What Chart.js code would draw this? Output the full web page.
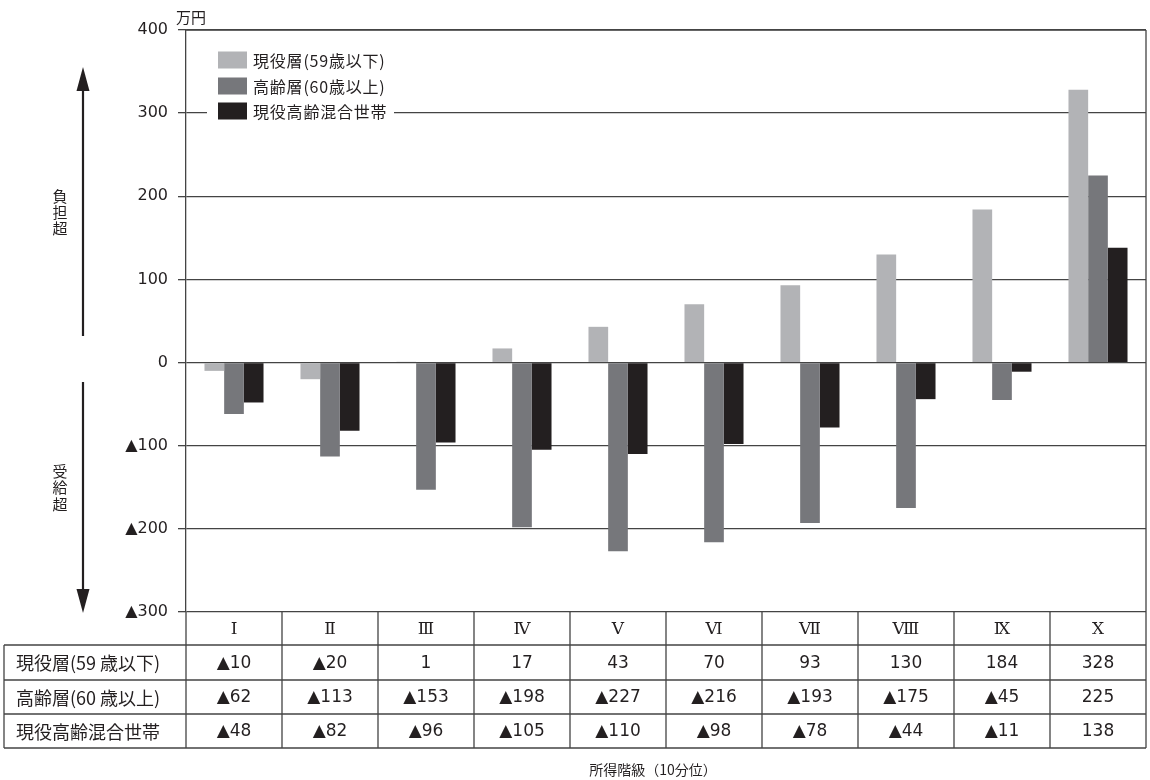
<!DOCTYPE html>
<html lang="ja">
<head>
<meta charset="utf-8">
<title>所得階級別 負担超・受給超</title>
<script src="https://cdn.jsdelivr.net/npm/chart.js@4.4.1/dist/chart.umd.min.js"></script>
<style>
  html, body { margin: 0; padding: 0; background: #fff; }
  #wrap { width: 1150px; height: 780px; position: relative; }
</style>
</head>
<body>
<div id="wrap"><canvas id="c" width="1150" height="780"></canvas></div>
<script>
// 所得階級（10分位）
const deciles = ['Ⅰ', 'Ⅱ', 'Ⅲ', 'Ⅳ', 'Ⅴ', 'Ⅵ', 'Ⅶ', 'Ⅷ', 'Ⅸ', 'Ⅹ'];
// 系列名（凡例）と表の行見出し
const seriesNames = ['現役層(59歳以下)', '高齢層(60歳以上)', '現役高齢混合世帯'];
const rowLabels = ['現役層(59 歳以下)', '高齢層(60 歳以上)', '現役高齢混合世帯'];
// 値（万円、マイナスは▲表示）
const activeValues = [-10, -20, 1, 17, 43, 70, 93, 130, 184, 328];
const elderlyValues = [-62, -113, -153, -198, -227, -216, -193, -175, -45, 225];
const mixedValues = [-48, -82, -96, -105, -110, -98, -78, -44, -11, 138];
// 縦軸目盛
const yTicks = [400, 300, 200, 100, 0, -100, -200, -300];

const colors = ['#b2b3b6', '#76777b', '#231f20'];
const ink = '#231f20';
const lineColor = '#444';

const fmt = v => (v < 0 ? '▲' + (-v) : String(v));

const decor = {
  id: 'decor',
  afterDraw(chart) {
    const ctx = chart.ctx;
    const area = chart.chartArea;
    const xs = chart.scales.x;
    const half = (xs.getPixelForValue(1) - xs.getPixelForValue(0)) / 2;
    ctx.save();

    // 上枠・右枠
    ctx.strokeStyle = lineColor;
    ctx.lineWidth = 1.3;
    ctx.beginPath();
    ctx.moveTo(area.left, area.top);
    ctx.lineTo(area.right, area.top);
    ctx.moveTo(area.right, area.top);
    ctx.lineTo(area.right, area.bottom);
    ctx.stroke();

    // 凡例
    const lx = 218, ly = [60, 86, 111];
    ctx.fillStyle = '#fff';
    ctx.fillRect(207, 45, 187, 78);
    ctx.font = '16px "Noto Sans CJK JP"';
    ctx.textBaseline = 'middle';
    ctx.textAlign = 'left';
    try { ctx.letterSpacing = '0.8px'; } catch (e) {}
    chart.data.datasets.forEach((ds, i) => {
      ctx.fillStyle = ds.backgroundColor;
      ctx.fillRect(lx, ly[i] - 8.5, 29, 17);
      ctx.fillStyle = ink;
      ctx.fillText(ds.label, lx + 35, ly[i] + 1);
    });
    try { ctx.letterSpacing = '0px'; } catch (e) {}

    // 単位
    ctx.font = '15px "Noto Sans CJK JP"';
    ctx.fillStyle = ink;
    ctx.textBaseline = 'middle';
    ctx.fillText('万円', 176, 17);

    // 表
    const rowY = [area.bottom, 645, 680, 714, 748];
    const tableLeft = 4;
    ctx.strokeStyle = lineColor;
    ctx.lineWidth = 1.3;
    ctx.beginPath();
    for (let r = 1; r < rowY.length; r++) {
      ctx.moveTo(tableLeft, rowY[r]);
      ctx.lineTo(area.right, rowY[r]);
    }
    ctx.moveTo(tableLeft, rowY[1]);
    ctx.lineTo(tableLeft, rowY[4]);
    for (let i = 0; i <= deciles.length; i++) {
      const x = i < deciles.length ? xs.getPixelForValue(i) - half : area.right;
      ctx.moveTo(x, rowY[0]);
      ctx.lineTo(x, rowY[4]);
    }
    ctx.stroke();

    // 見出し（ローマ数字）
    ctx.fillStyle = ink;
    ctx.textAlign = 'center';
    ctx.font = '17px "DejaVu Serif"';
    deciles.forEach((d, i) => {
      ctx.fillText(d, xs.getPixelForValue(i), (rowY[0] + rowY[1]) / 2 + 1);
    });

    // 行見出しと値
    const rows = [activeValues, elderlyValues, mixedValues];
    rows.forEach((vals, r) => {
      const cy = (rowY[r + 1] + rowY[r + 2]) / 2 + 1;
      ctx.textAlign = 'left';
      ctx.font = '18px "Noto Sans CJK JP"';
      ctx.fillText(rowLabels[r], 16, cy);
      ctx.textAlign = 'center';
      ctx.font = '17px "DejaVu Sans"';
      vals.forEach((v, i) => ctx.fillText(fmt(v), xs.getPixelForValue(i), cy));
    });

    // 横軸タイトル
    ctx.font = '14px "Noto Sans CJK JP"';
    ctx.fillText('所得階級（10分位）', 653, 770);

    // 左側の矢印
    const ax = 83;
    ctx.strokeStyle = ink;
    ctx.fillStyle = ink;
    ctx.lineWidth = 2.2;
    ctx.beginPath();
    ctx.moveTo(ax, 336); ctx.lineTo(ax, 85);
    ctx.moveTo(ax, 382); ctx.lineTo(ax, 595);
    ctx.stroke();
    ctx.beginPath();
    ctx.moveTo(ax, 67); ctx.lineTo(ax - 6.5, 91); ctx.lineTo(ax + 6.5, 91); ctx.closePath();
    ctx.fill();
    ctx.beginPath();
    ctx.moveTo(ax, 613); ctx.lineTo(ax - 6.5, 589); ctx.lineTo(ax + 6.5, 589); ctx.closePath();
    ctx.fill();

    // 縦書きラベル
    ctx.font = '15px "Noto Sans CJK JP"';
    ctx.textAlign = 'center';
    ['負', '担', '超'].forEach((ch, k) => ctx.fillText(ch, 60, 196 + k * 16));
    ['受', '給', '超'].forEach((ch, k) => ctx.fillText(ch, 60, 471 + k * 16.5));

    ctx.restore();
  }
};

new Chart(document.getElementById('c'), {
  type: 'bar',
  data: {
    labels: deciles,
    datasets: [
      { label: seriesNames[0], data: activeValues, backgroundColor: colors[0] },
      { label: seriesNames[1], data: elderlyValues, backgroundColor: colors[1] },
      { label: seriesNames[2], data: mixedValues, backgroundColor: colors[2] }
    ].map(d => Object.assign(d, { categoryPercentage: 0.615, barPercentage: 1.0, borderWidth: 0 }))
  },
  options: {
    responsive: false,
    animation: false,
    layout: { padding: { left: 0, right: 4, top: 30, bottom: 168 } },
    plugins: { legend: { display: false }, tooltip: { enabled: false } },
    scales: {
      x: { display: false },
      y: {
        min: -300,
        max: 400,
        afterFit(scale) { scale.width = 186; },
        afterBuildTicks(scale) { scale.ticks = yTicks.map(v => ({ value: v })); },
        border: { display: true, color: lineColor, width: 1.3 },
        grid: { color: lineColor, lineWidth: 1.3, tickLength: 8, drawTicks: true },
        ticks: {
          padding: 10,
          color: ink,
          font: { family: '"DejaVu Sans"', size: 16 },
          callback: v => fmt(v)
        }
      }
    }
  },
  plugins: [decor]
});
</script>
</body>
</html>
